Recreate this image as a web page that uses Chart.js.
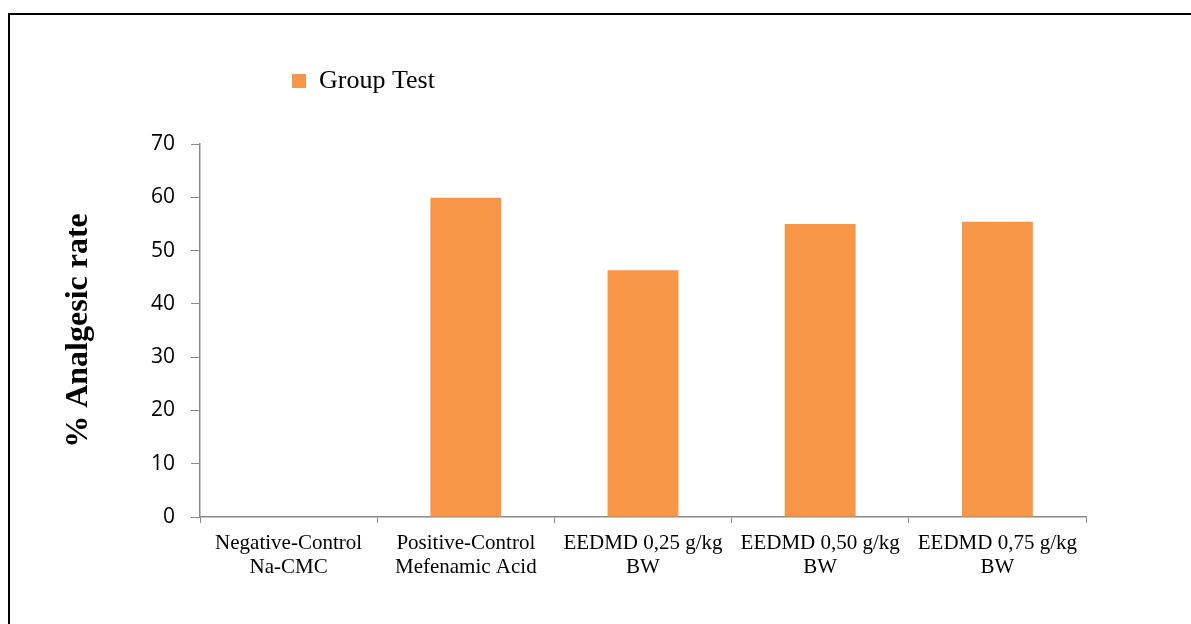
<!DOCTYPE html>
<html>
<head>
<meta charset="utf-8">
<script src="https://cdn.jsdelivr.net/npm/chart.js@4"></script>
<style>
  body { margin: 0; background: #fff; }
  #wrap { position: relative; width: 1191px; height: 624px; overflow: hidden; }
  #frame { position: absolute; left: 8px; top: 13px; width: 1300px; height: 700px;
    border-left: 2px solid #000; border-top: 2px solid #000; }
  canvas { position: absolute; left: 0; top: 0; }
</style>
</head>
<body>
<div id="wrap">
  <div id="frame"></div>
  <canvas id="myChart"></canvas>
</div>
<script>
// categories and values
const groups = [
  ['Negative-Control', 'Na-CMC'],
  ['Positive-Control', 'Mefenamic Acid'],
  ['EEDMD 0,25 g/kg', 'BW'],
  ['EEDMD 0,50 g/kg', 'BW'],
  ['EEDMD 0,75 g/kg', 'BW']
];
const analgesicRate = [0, 59.9, 46.3, 55.0, 55.4];
const seriesName = 'Group Test';
const yTicks = [0, 10, 20, 30, 40, 50, 60, 70];

const axisGray = '#898989';

// move the legend to where it sits in the picture and leave a gap below it
const legendPlace = {
  id: 'legendPlace',
  beforeInit(chart) {
    const fit = chart.legend.fit;
    chart.legend.fit = function () {
      fit.bind(chart.legend)();
      this.height += 40;
    };
  },
  afterLayout(chart) {
    chart.legend.left = 282;
  }
};

const ctx = document.getElementById('myChart');

new Chart(ctx, {
  type: 'bar',
  data: {
    labels: groups,
    datasets: [{
      label: seriesName,
      data: analgesicRate,
      backgroundColor: '#F79646',
      borderWidth: 0,
      barPercentage: 0.4,
      categoryPercentage: 1.0
    }]
  },
  options: {
    responsive: true,
    maintainAspectRatio: false,
    animation: false,
    layout: { padding: { left: 56, right: 105, top: 58, bottom: 0 } },
    plugins: {
      tooltip: { enabled: false },
      legend: {
        align: 'start',
        labels: {
          boxWidth: 14,
          boxHeight: 14,
          padding: 10,
          color: '#000',
          font: { family: 'Liberation Serif', size: 26 }
        }
      }
    },
    scales: {
      x: {
        grid: { drawOnChartArea: false, tickLength: 6, color: axisGray, offset: true },
        border: { color: axisGray, width: 1.5 },
        ticks: {
          color: '#000',
          padding: 9,
          maxRotation: 0,
          autoSkip: false,
          font: { family: 'Liberation Serif', size: 21, lineHeight: 1.13 }
        },
        afterFit(scale) { scale.height = 107; }
      },
      y: {
        min: 0,
        max: 70,
        afterBuildTicks(scale) { scale.ticks = yTicks.map((v) => ({ value: v })); },
        grid: { drawOnChartArea: false, tickLength: 9, color: axisGray },
        border: { color: axisGray, width: 1.5 },
        ticks: {
          color: '#000',
          padding: 16,
          font: { family: 'Open Sans', size: 21 }
        },
        title: {
          display: true,
          text: '% Analgesic rate',
          color: '#000',
          padding: { top: 4, bottom: 4 },
          font: { family: 'Liberation Serif', size: 32, weight: 'bold' }
        },
        afterFit(scale) { scale.width = 144; }
      }
    }
  },
  plugins: [legendPlace]
});
</script>
</body>
</html>
